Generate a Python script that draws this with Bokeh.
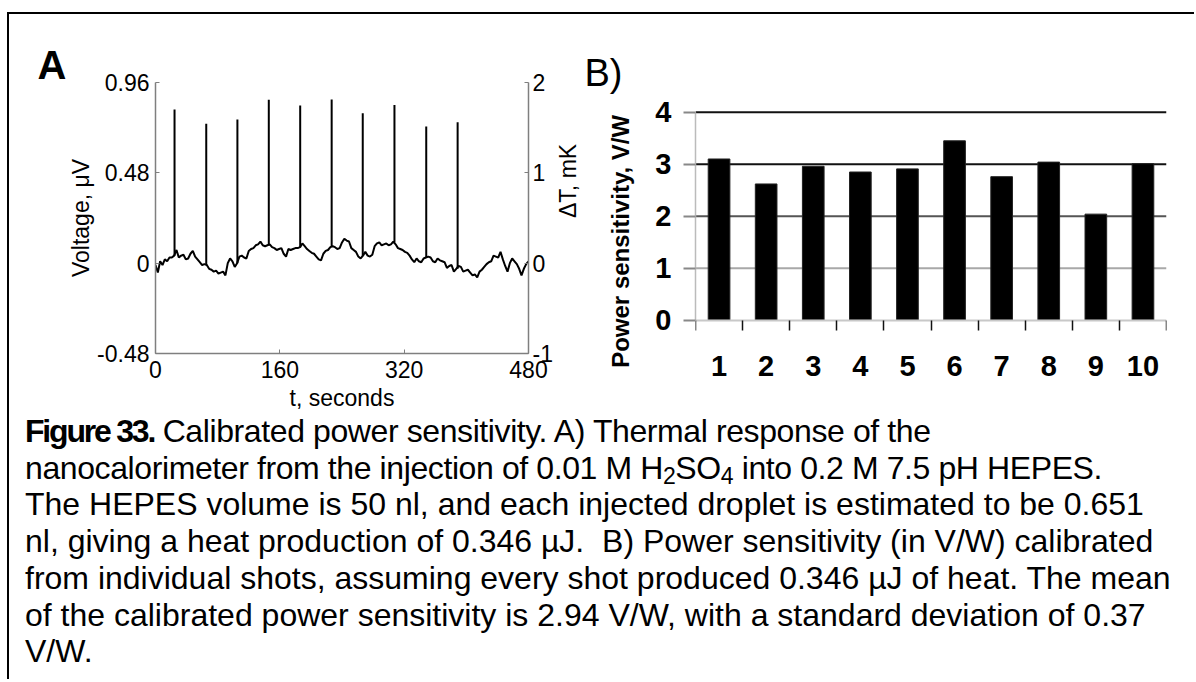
import math
from bokeh.plotting import figure
from bokeh.models import Range1d, LinearAxis, FixedTicker, Span, Div
from bokeh.layouts import row, column
from bokeh.embed import file_html
from bokeh.resources import INLINE

# ---------------- Panel A data ----------------
# baseline voltage (uV) sampled every 3 s from 0 to 480 s
base_t = list(range(0, 481, 3))
base_v = [
    -0.01, -0.05, 0.01, -0.01, 0.02, 0.01, 0.03, 0.03, 0.04, 0.07,
    0.03, 0.04, 0.045, 0.02, 0.025, 0.05, 0.065, 0.035, 0.02, 0.005,
    -0.01, -0.005, -0.01, -0.03, -0.035, -0.045, -0.04, -0.055, -0.05, -0.045,
    -0.065, 0.0, 0.025, 0.01, -0.02, 0.0, 0.035, 0.04, 0.03, 0.025,
    0.065, 0.075, 0.08, 0.095, 0.10, 0.115, 0.095, 0.09, 0.095, 0.10,
    0.085, 0.08, 0.07, 0.075, 0.08, 0.05, 0.035, 0.075, 0.07, 0.075,
    0.08, 0.08, 0.085, 0.105, 0.09, 0.075, 0.065, 0.055, 0.05, 0.035,
    0.02, 0.015, 0.05, 0.065, 0.07, 0.085, 0.09, 0.085, 0.075, 0.08,
    0.11, 0.13, 0.12, 0.115, 0.08, 0.07, 0.06, 0.035, 0.025, 0.04,
    0.06, 0.04, 0.035, 0.045, 0.09, 0.105, 0.11, 0.095, 0.10, 0.105,
    0.095, 0.10, 0.115, 0.10, 0.08, 0.075, 0.07, 0.06, 0.055, 0.04,
    0.02, 0.005, 0.025, 0.01, 0.005, 0.025, 0.03, 0.035, 0.03, 0.01,
    0.005, 0.025, 0.015, 0.01, 0.005, -0.025, -0.015, -0.01, -0.045, -0.03,
    -0.015, -0.02, -0.045, -0.04, -0.035, -0.05, -0.065, -0.06, -0.075, -0.045,
    -0.035, -0.02, -0.005, 0.005, 0.01, 0.04, 0.035, 0.03, 0.06, 0.02,
    -0.015, -0.045, 0.0, 0.025, 0.01, -0.005, -0.03, -0.065, -0.03, -0.005,
    0.01,
]
# injection spikes: time (s), voltage at spike foot and at peak (uV)
spike_t = [24.5, 65.3, 105.4, 145.8, 186.2, 226.7, 266.7, 307.5, 348.4, 388.8]
spike_base = [0.04, -0.01, 0.0, 0.095, 0.085, 0.09, 0.04, 0.11, 0.03, -0.03]
spike_peak = [0.817, 0.741, 0.764, 0.868, 0.838, 0.870, 0.797, 0.841, 0.726, 0.749]

a_xticks = [0, 160, 320, 480]
a_xlabels = ["0", "160", "320", "480"]
a_yticks = [-0.48, 0, 0.48, 0.96]
a_ylabels = ["-0.48", "0", "0.48", "0.96"]
a_y2ticks = [-1, 0, 1, 2]
a_y2labels = ["-1", "0", "1", "2"]

# ---------------- Panel B data ----------------
shots = [1, 2, 3, 4, 5, 6, 7, 8, 9, 10]
sensitivity = [3.10, 2.62, 2.96, 2.85, 2.91, 3.45, 2.76, 3.04, 2.04, 3.01]
b_yticks = [0, 1, 2, 3, 4]
b_grid_colors = ["#a8a8a8", "#555555", "#111111", "#111111"]

FONT = "Liberation Sans"

# ---------------- Panel A ----------------
pA = figure(width=591, height=403, x_range=Range1d(0, 480), y_range=Range1d(-0.48, 0.96),
            output_backend="svg", toolbar_location=None,
            min_border_left=146, min_border_right=72, min_border_top=68, min_border_bottom=64,
            background_fill_color="white", border_fill_color="white")
pA.extra_y_ranges = {"dT": Range1d(-1, 2)}
pA.outline_line_color = None
pA.xgrid.grid_line_color = None
pA.ygrid.grid_line_color = None

pA.line(base_t, base_v, line_color="black", line_width=2)
pA.segment(x0=spike_t, y0=spike_base, x1=spike_t, y1=spike_peak, line_color="black", line_width=2)

pA.title.text = "A"
pA.title.align = "left"
pA.title.offset = -118
pA.title.standoff = -8
pA.title.text_font = FONT
pA.title.text_font_size = "40px"
pA.title.text_font_style = "bold"
pA.title.text_color = "black"

def style_axis_a(ax):
    ax.axis_line_color = "#7f7f7f"
    ax.axis_line_width = 1.5
    ax.major_tick_line_color = "#7f7f7f"
    ax.major_tick_in = 4
    ax.major_tick_out = 0
    ax.minor_tick_line_color = None
    ax.major_label_text_font = FONT
    ax.major_label_text_font_size = "23px"
    ax.major_label_text_color = "black"
    ax.axis_label_text_font = FONT
    ax.axis_label_text_font_size = "23px"
    ax.axis_label_text_font_style = "normal"
    ax.axis_label_text_color = "black"

xa = pA.xaxis[0]
xa.ticker = FixedTicker(ticks=a_xticks)
xa.major_label_overrides = dict(zip(a_xticks, a_xlabels))
xa.axis_label = "t, seconds"
style_axis_a(xa)
xa.major_label_standoff = 7
xa.axis_label_standoff = 4

ya = pA.yaxis[0]
ya.ticker = FixedTicker(ticks=a_yticks)
ya.major_label_overrides = dict(zip(a_yticks, a_ylabels))
ya.axis_label = "Voltage, \u03bcV"
style_axis_a(ya)
ya.major_label_standoff = 6
ya.axis_label_standoff = 0

ya2 = LinearAxis(y_range_name="dT", ticker=FixedTicker(ticks=a_y2ticks))
ya2.major_label_overrides = dict(zip(a_y2ticks, a_y2labels))
ya2.axis_label = "\u0394T, mK"
style_axis_a(ya2)
ya2.major_label_standoff = 4
ya2.axis_label_standoff = 12
if "axis_label_orientation" in LinearAxis.properties():
    ya2.axis_label_orientation = math.pi / 2
pA.add_layout(ya2, "right")

# ---------------- Panel B ----------------
pB = figure(width=609, height=403, x_range=Range1d(0.5, 10.5), y_range=Range1d(-0.64, 4.571),
            output_backend="svg", toolbar_location=None,
            min_border_left=111, min_border_right=27, min_border_top=68, min_border_bottom=64,
            background_fill_color="white", border_fill_color="white", border_fill_alpha=0,
            margin=(0, 0, 0, -16))
pB.outline_line_color = None
pB.xgrid.grid_line_color = None
pB.ygrid.grid_line_color = None

for v, c in zip(b_yticks[1:], b_grid_colors):
    pB.add_layout(Span(location=v, dimension="width", line_color=c, line_width=2, level="underlay"))

pB.vbar(x=shots, top=sensitivity, width=0.46, fill_color="black", line_color="#222222", line_width=1)

pB.title.text = "B)"
pB.title.align = "left"
pB.title.offset = -111
pB.title.standoff = -22
pB.title.text_font = FONT
pB.title.text_font_size = "38px"
pB.title.text_font_style = "normal"
pB.title.text_color = "black"

# category labels (bottom axis, no line / ticks)
xb = pB.xaxis[0]
xb.ticker = FixedTicker(ticks=shots)
xb.major_label_overrides = {s: str(s) for s in shots}
xb.axis_line_color = None
xb.major_tick_line_color = None
xb.minor_tick_line_color = None
xb.major_label_text_font = FONT
xb.major_label_text_font_size = "29px"
xb.major_label_text_font_style = "bold"
xb.major_label_text_color = "black"
xb.major_label_standoff = -4

# axis line at zero with tick marks between categories
xb0 = LinearAxis(fixed_location=0, bounds=(0.5, 10.5),
                 ticker=FixedTicker(ticks=[], minor_ticks=[s - 0.5 for s in shots] + [shots[-1] + 0.5]))
xb0.axis_line_color = "#c8c8c8"
xb0.axis_line_width = 2
xb0.major_tick_line_color = None
xb0.minor_tick_in = 0
xb0.minor_tick_out = 10
xb0.minor_tick_line_color = "#111111"
xb0.minor_tick_line_width = 1.5
xb0.major_label_text_font_size = "1px"
pB.add_layout(xb0, "below")

yb = pB.yaxis[0]
yb.bounds = (0, 4)
yb.ticker = FixedTicker(ticks=b_yticks)
yb.axis_line_color = "#bbbbbb"
yb.axis_line_width = 1.5
yb.major_tick_in = 0
yb.major_tick_out = 12
yb.major_tick_line_color = "#888888"
yb.major_tick_line_width = 2
yb.minor_tick_line_color = None
yb.major_label_text_font = FONT
yb.major_label_text_font_size = "29px"
yb.major_label_text_font_style = "bold"
yb.major_label_text_color = "black"
yb.major_label_standoff = 12
# trailing no-break spaces shift the centred title toward the bottom, as in the original
yb.axis_label = "Power sensitivity, V/W" + "\u00a0" * 7
yb.axis_label_text_font = FONT
yb.axis_label_text_font_size = "24px"
yb.axis_label_text_font_style = "bold"
yb.axis_label_text_color = "black"
yb.axis_label_standoff = 18

# ---------------- Caption ----------------
sub = '<span style="font-size:0.72em;vertical-align:-0.22em;line-height:0">{}</span>'
line_div = '<div style="letter-spacing:{}px">{}</div>'
caption_lines = [
    line_div.format(-0.4, '<b style="letter-spacing:-2.2px">Figure 33.</b> Calibrated power sensitivity. '
                    'A) Thermal response of the'),
    line_div.format(-0.4, "nanocalorimeter from the injection of 0.01 M H" + sub.format("2") + "SO"
                    + sub.format("4") + " into 0.2 M 7.5 pH HEPES."),
    line_div.format(0, "The HEPES volume is 50 nl, and each injected droplet is estimated to be 0.651"),
    line_div.format(0, "nl, giving a heat production of 0.346 \u00b5J.&nbsp; B) Power sensitivity (in V/W) calibrated"),
    line_div.format(0, "from individual shots, assuming every shot produced 0.346 \u00b5J of heat. The mean"),
    line_div.format(0, "of the calibrated power sensitivity is 2.94 V/W, with a standard deviation of 0.37"),
    line_div.format(0, "V/W."),
]
caption_html = ('<div style="font-family:\'Liberation Sans\',Arial,sans-serif;font-size:32px;'
                'line-height:36.7px;color:black;white-space:nowrap;margin:0;padding:0;'
                'position:relative;top:-4px">' + "".join(caption_lines) + "</div>")
cap = Div(text=caption_html, width=1171, height=264, margin=(0, 0, 0, 16))

# frame lines on the top and left side (drawn as an outside shadow, no layout impact)
root = column(row(pA, pB), cap, margin=(14, 0, 0, 9),
              styles={"box-shadow": "-2px -2px 0 0 #000000", "overflow": "visible"})

open("out.html", "w").write(file_html(root, INLINE))
